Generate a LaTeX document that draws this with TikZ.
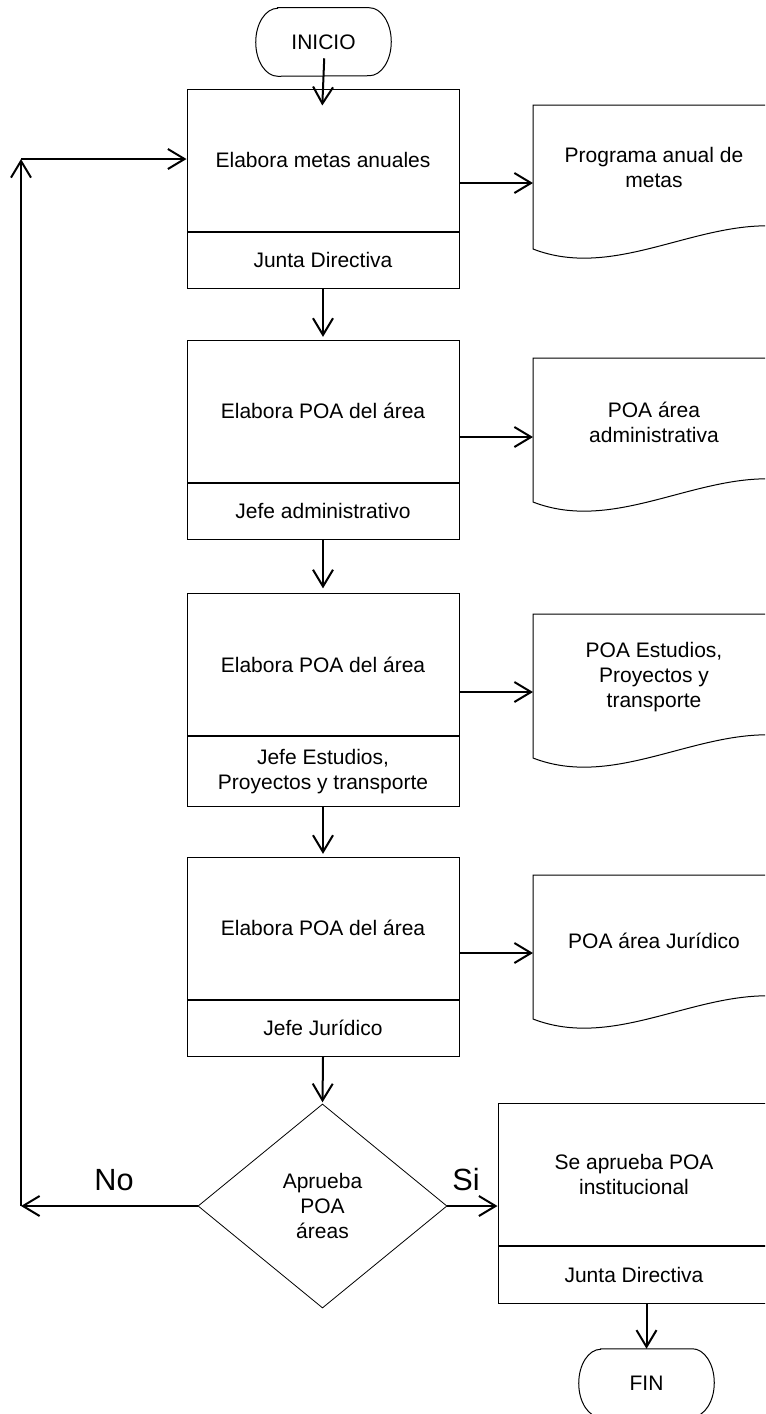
\documentclass[tikz,border=0pt]{standalone}
\usepackage{fontspec}
\setmainfont{Liberation Sans}
\usetikzlibrary{arrows.meta,shapes.geometric}

% rounded terminal outline (elliptic ends) around a named node
\newcommand\termoutline[1]{%
  \draw[outline] ([xshift=16.5pt]#1.north west) -- ([xshift=-16.5pt]#1.north east)
    arc[start angle=90,end angle=-90,x radius=16.5pt,y radius=25.5pt]
    -- ([xshift=16.5pt]#1.south west)
    arc[start angle=270,end angle=90,x radius=16.5pt,y radius=25.5pt] -- cycle;}
% document symbol with wavy bottom: left x, top y
\newcommand\docoutline[2]{%
  \draw[outline,fill=white] (#1,#2) -- ({#1+242},#2) -- ({#1+242},{#2+121})
    .. controls ({#1+160},{#2+117}) and ({#1+80},{#2+175}) .. (#1,{#2+144}) -- cycle;}

\tikzset{
  outline/.style={line width=0.75pt},
  flow/.style={line width=1.5pt,-{Straight Barb[length=12.5pt,width=15pt]}},
  stage/.style={draw,line width=0.75pt,minimum width=204pt,minimum height=106.5pt,
    inner sep=2pt,align=center},
  role/.style={draw,line width=0.75pt,minimum width=204pt,minimum height=42.5pt,
    inner sep=2pt,align=center,anchor=north},
  term/.style={minimum width=101.25pt,minimum height=51pt,inner sep=0pt},
  decision/.style={diamond,draw,line width=0.6pt,minimum width=186.75pt,
    minimum height=153pt,inner sep=0pt,align=center},
  doctext/.style={align=center},
  big/.style={font=\fontsize{23pt}{27pt}\selectfont}
}

\begin{document}
\begin{tikzpicture}[x=0.75pt,y=-0.75pt,font=\fontsize{15.75pt}{18.75pt}\selectfont]
\useasboundingbox (0,0) rectangle (765,1414);
\clip (0,0) rectangle (765,1414);

% terminals
\node[term] (ini) at (323.5,42) {INICIO};
\termoutline{ini}
\node[term] (fin) at (646.5,1383) {FIN};
\termoutline{fin}

% process boxes with responsible role
\node[stage] (b1) at (323,160) {Elabora metas anuales};
\node[role] (b1r) at (b1.south) {Junta Directiva};
\node[stage] (b2) at (323,411) {Elabora POA del área};
\node[role] (b2r) at (b2.south) {Jefe administrativo};
\node[stage] (b3) at (323,664.5) {Elabora POA del área};
\node[role,minimum height=52.5pt] (b3r) at (b3.south) {Jefe Estudios,\\Proyectos y transporte};
\node[stage] (b4) at (323,928) {Elabora POA del área};
\node[role] (b4r) at (b4.south) {Jefe Jurídico};
\node[decision] (dec) at (322.5,1206) {Aprueba\\POA\\áreas};
\node[stage] (b5) at (634,1174.5) {Se aprueba POA\\institucional};
\node[role] (b5r) at (b5.south) {Junta Directiva};

% output documents
\docoutline{533}{105}
\node[doctext] (d1) at (654,167) {Programa anual de\\metas};
\docoutline{533}{358}
\node[doctext] (d2) at (654,422) {POA área\\administrativa};
\docoutline{533}{614}
\node[doctext] (d3) at (654,677.5) {POA Estudios,\\Proyectos y\\transporte};
\docoutline{533}{875}
\node[doctext] (d4) at (654,941) {POA área Jurídico};

\coordinate (d1in) at (533,183);
\coordinate (d2in) at (533,437);
\coordinate (d3in) at (533,692);
\coordinate (d4in) at (533,953);
\coordinate (loopbot) at (21,1206);
\coordinate (looptop) at (21,159);

% main flow
\draw[flow,shorten <=-13.5pt,shorten >=-12.75pt] (ini.south) -- (b1.north);
\draw[flow,shorten >=2pt] (b1r.south) -- (b2.north);
\draw[flow,shorten >=3.5pt] (b2r.south) -- (b3.north);
\draw[flow,shorten >=2pt] (b3r.south) -- (b4.north);
\draw[flow,shorten >=1pt] (b4r.south) -- (dec.north);
\draw[flow] (dec.east) -- (dec.east -| b5.west);
\draw[flow] (fin.north |- b5r.south) -- (fin.north);

% outputs
\draw[flow] (b1.east |- d1in) -- (d1in);
\draw[flow] (b2.east |- d2in) -- (d2in);
\draw[flow] (b3.east |- d3in) -- (d3in);
\draw[flow] (b4.east |- d4in) -- (d4in);

% rejection loop
\draw[flow] (dec.west) -- (loopbot);
\draw[flow] (loopbot) -- (looptop);
\draw[flow] (looptop) -- (b1.west |- looptop);

\node[big] (no) at (114,1180) {No};
\node[big] (si) at (466,1180) {Si};
\end{tikzpicture}
\end{document}
